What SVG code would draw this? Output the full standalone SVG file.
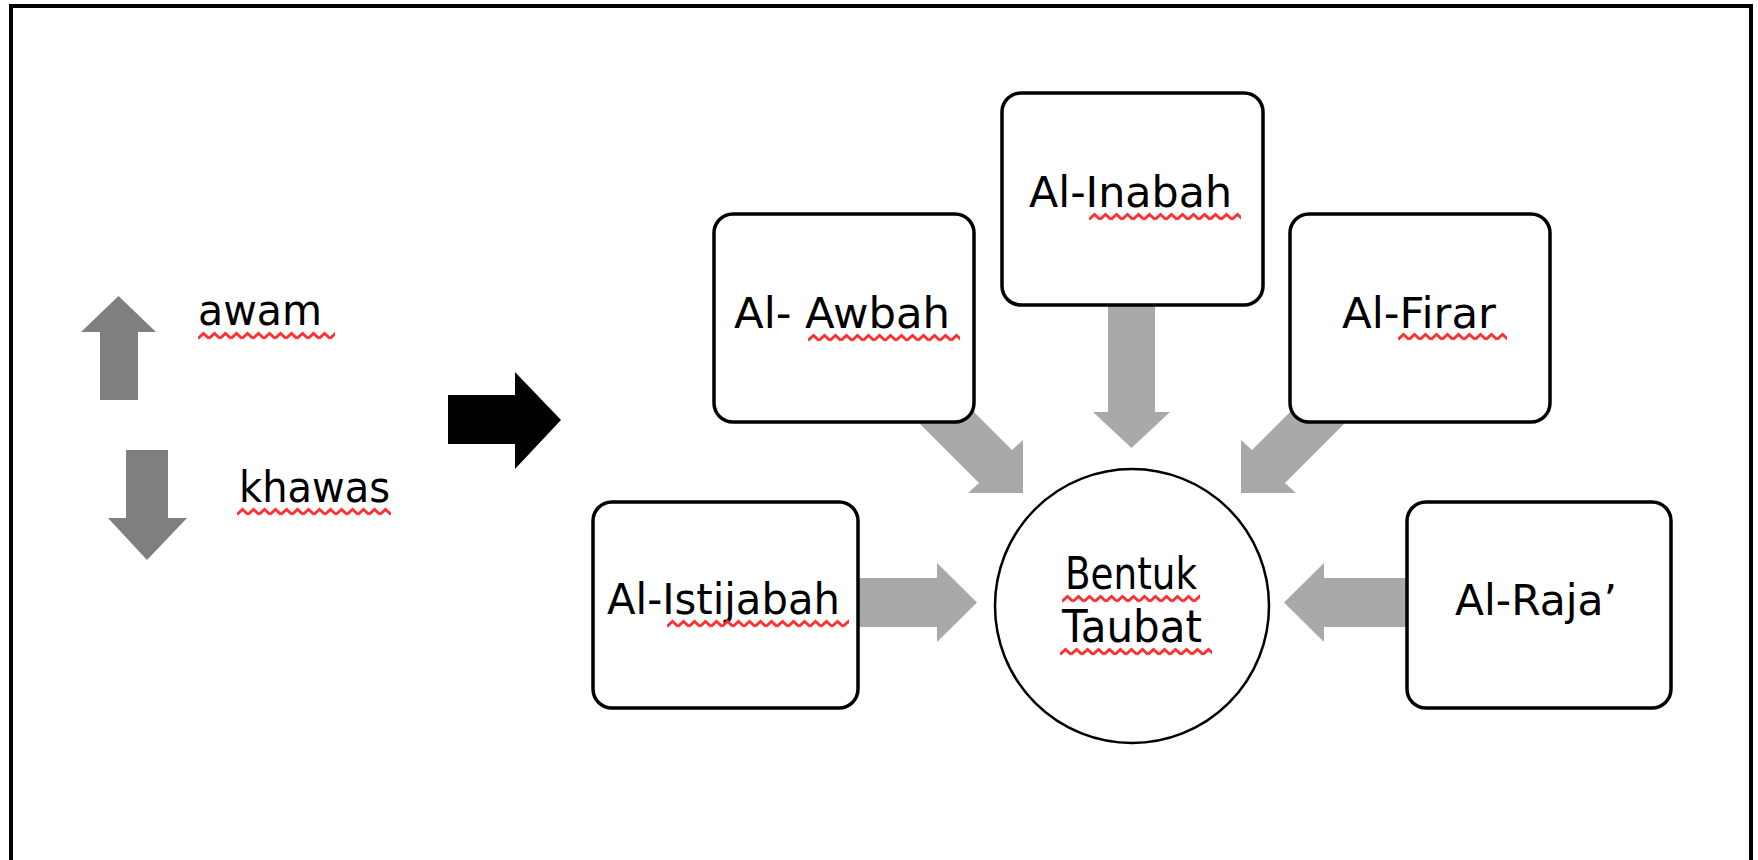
<svg xmlns="http://www.w3.org/2000/svg" width="1758" height="860" viewBox="0 0 1758 860">
  <style>
    .txt { font-family: "DejaVu Sans", "Liberation Sans", sans-serif; font-size: 42px; fill: #000; }
    .ctxt { font-family: "DejaVu Sans", "Liberation Sans", sans-serif; font-size: 45px; fill: #000; }
    .box { fill: #fff; stroke: #000; stroke-width: 3.5; }
    .circ { fill: #fff; stroke: #000; stroke-width: 2.5; }
    .garrow { fill: #a9a9a9; }
    .legend { fill: #7f7f7f; }
  </style>
  <defs>
    <pattern id="sq" patternUnits="userSpaceOnUse" width="11" height="10">
      <polyline points="0,7.5 5.5,2.5 11,7.5" fill="none" stroke="#ff3030" stroke-width="2.8"/>
    </pattern>
  </defs>
  <rect width="1758" height="860" fill="#fff"/>
  <rect x="11" y="6" width="1740" height="900" fill="none" stroke="#000" stroke-width="4"/>

  <g id="legend-awam">
    <polygon class="legend" points="118.5,296 156,332 138,332 138,400 100,400 100,332 81,332"/>
    <text class="txt" x="198" y="325" textLength="124" lengthAdjust="spacingAndGlyphs">awam</text>
    <rect transform="translate(198,331)" width="137" height="10" fill="url(#sq)"/>
  </g>
  <g id="legend-khawas">
    <polygon class="legend" points="126,450 168,450 168,518 187,518 147,560 108,518 126,518"/>
    <text class="txt" x="239" y="502" textLength="151" lengthAdjust="spacingAndGlyphs">khawas</text>
    <rect transform="translate(237,507)" width="154" height="10" fill="url(#sq)"/>
  </g>
  <g id="main-arrow">
    <polygon fill="#000" points="448,395 515,395 515,372 561,420 515,469 515,444 448,444"/>
  </g>

  <g id="connectors">
    <polygon class="garrow" points="1108,290 1155,290 1155,412 1170,412 1131.5,448 1093,412 1108,412"/>
    <polygon class="garrow" points="840,578 937,578 937,563 977,602.5 937,642 937,627 840,627"/>
    <polygon class="garrow" points="1420,578 1324,578 1324,563 1284,602.5 1324,642 1324,627 1420,627"/>
    <polygon class="garrow" points="906,344 1012,450 1023,440 1023,493 968,493 979,483 873,377"/>
    <polygon class="garrow" points="1358,344 1252,450 1241,440 1241,493 1296,493 1285,483 1391,377"/>
  </g>

  <g id="node-awbah">
    <rect class="box" x="714" y="214" width="260" height="208" rx="19"/>
    <text class="txt" x="734" y="328" textLength="216" lengthAdjust="spacingAndGlyphs">Al- Awbah</text>
    <rect transform="translate(808,333)" width="152" height="10" fill="url(#sq)"/>
  </g>
  <g id="node-inabah">
    <rect class="box" x="1002" y="93" width="261" height="212" rx="19"/>
    <text class="txt" x="1029" y="207" textLength="203" lengthAdjust="spacingAndGlyphs">Al-Inabah</text>
    <rect transform="translate(1089,212)" width="152" height="10" fill="url(#sq)"/>
  </g>
  <g id="node-firar">
    <rect class="box" x="1290" y="214" width="260" height="208" rx="19"/>
    <text class="txt" x="1342" y="328" textLength="154" lengthAdjust="spacingAndGlyphs">Al-Firar</text>
    <rect transform="translate(1398,332)" width="109" height="10" fill="url(#sq)"/>
  </g>
  <g id="node-istijabah">
    <rect class="box" x="593" y="502" width="265" height="206" rx="19"/>
    <text class="txt" x="607" y="614" textLength="233" lengthAdjust="spacingAndGlyphs">Al-Istijabah</text>
    <rect transform="translate(667,619)" width="182" height="10" fill="url(#sq)"/>
  </g>
  <g id="node-raja">
    <rect class="box" x="1407" y="502" width="264" height="206" rx="19"/>
    <text class="txt" x="1455" y="615" textLength="162" lengthAdjust="spacingAndGlyphs">Al-Raja’</text>
  </g>
  <g id="node-center">
    <circle class="circ" cx="1132" cy="606" r="137"/>
    <text class="ctxt" x="1065" y="589" textLength="132" lengthAdjust="spacingAndGlyphs">Bentuk</text>
    <rect transform="translate(1062,594)" width="138" height="10" fill="url(#sq)"/>
    <text class="ctxt" x="1062" y="642" textLength="140" lengthAdjust="spacingAndGlyphs">Taubat</text>
    <rect transform="translate(1060,647)" width="152" height="10" fill="url(#sq)"/>
  </g>
</svg>
